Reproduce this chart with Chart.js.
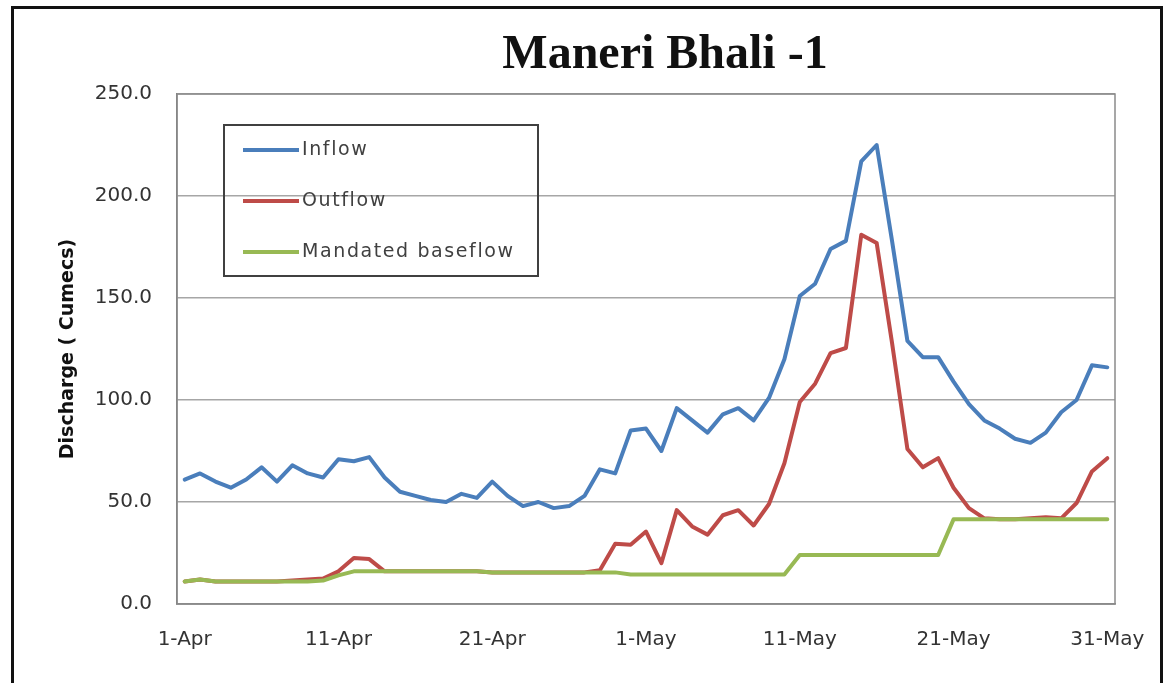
<!DOCTYPE html>
<html lang="en">
<head>
  <meta charset="UTF-8">
  <title>Maneri Bhali -1</title>
  <script src="https://cdn.jsdelivr.net/npm/chart.js"></script>
  <style>
    body { margin: 0; background: #fff; }
    #wrap { position: relative; width: 1164px; height: 683px; overflow: hidden; }
    #frame { position: absolute; left: 11px; top: 6px; width: 1146px; height: 720px; border: 3px solid #111; pointer-events: none; }
    canvas { position: absolute; left: 0; top: 0; }
  </style>
</head>
<body>
  <div id="wrap">
    <canvas id="flowChart" width="1164" height="683"></canvas>
    <div id="frame"></div>
  </div>

  <script>
    const chartTitle = 'Maneri Bhali -1';

    const days = [
      '1-Apr','2-Apr','3-Apr','4-Apr','5-Apr','6-Apr','7-Apr','8-Apr','9-Apr','10-Apr',
      '11-Apr','12-Apr','13-Apr','14-Apr','15-Apr','16-Apr','17-Apr','18-Apr','19-Apr','20-Apr',
      '21-Apr','22-Apr','23-Apr','24-Apr','25-Apr','26-Apr','27-Apr','28-Apr','29-Apr','30-Apr',
      '1-May','2-May','3-May','4-May','5-May','6-May','7-May','8-May','9-May','10-May',
      '11-May','12-May','13-May','14-May','15-May','16-May','17-May','18-May','19-May','20-May',
      '21-May','22-May','23-May','24-May','25-May','26-May','27-May','28-May','29-May','30-May','31-May'
    ];

    const inflow = [
      61, 64, 60, 57, 61, 67, 60, 68, 64, 62,
      71, 70, 72, 62, 55, 53, 51, 50, 54, 52,
      60, 53, 48, 50, 47, 48, 53, 66, 64, 85,
      86, 75, 96, 90, 84, 93, 96, 90, 101, 120,
      151, 157, 174, 178, 217, 225, 178, 129, 121, 121,
      109, 98, 90, 86, 81, 79, 84, 94, 100, 117, 116
    ];

    const outflow = [
      11, 12, 11, 11, 11, 11, 11, 11.5, 12, 12.5,
      16, 22.5, 22, 16, 16, 16, 16, 16, 16, 16,
      15.5, 15.5, 15.5, 15.5, 15.5, 15.5, 15.5, 16.5, 29.5, 29,
      35.5, 20, 46, 38, 34, 43.5, 46, 38.5, 49, 69,
      99, 108, 123, 125.5, 181, 177, 128, 76, 67, 71.5,
      57, 47, 42, 41.5, 41.5, 42, 42.5, 42, 49.5, 65, 71.5
    ];

    const baseflow = [
      11, 12, 11, 11, 11, 11, 11, 11, 11, 11.5,
      14, 16, 16, 16, 16, 16, 16, 16, 16, 16,
      15.5, 15.5, 15.5, 15.5, 15.5, 15.5, 15.5, 15.5, 15.5, 14.5,
      14.5, 14.5, 14.5, 14.5, 14.5, 14.5, 14.5, 14.5, 14.5, 14.5,
      24, 24, 24, 24, 24, 24, 24, 24, 24, 24,
      41.5, 41.5, 41.5, 41.5, 41.5, 41.5, 41.5, 41.5, 41.5, 41.5, 41.5
    ];

    const yTicks = [0, 50, 100, 150, 200, 250];

    const labelFont = "'DejaVu Sans', sans-serif";

    // grey box round the plot area, like Excel draws it
    const plotFrame = {
      id: 'plotFrame',
      beforeDatasetsDraw(chart) {
        const { ctx, chartArea: a } = chart;
        ctx.save();
        ctx.strokeStyle = '#8a8a8a';
        ctx.lineWidth = 1.5;
        ctx.strokeRect(a.left, a.top, a.right - a.left, a.bottom - a.top);
        ctx.restore();
      }
    };

    // title sits over the middle of the plot rather than the canvas
    const titlePlugin = {
      id: 'titlePlugin',
      afterDraw(chart) {
        const ctx = chart.ctx;
        ctx.save();
        ctx.font = "bold 48px 'Liberation Serif', serif";
        ctx.fillStyle = '#111';
        ctx.textAlign = 'center';
        ctx.textBaseline = 'alphabetic';
        ctx.fillText(chartTitle, 665, 68);
        ctx.restore();
      }
    };

    // legend box inside the plot, top left, no fill
    const boxLegend = {
      id: 'boxLegend',
      afterDraw(chart) {
        const ctx = chart.ctx;
        ctx.save();
        ctx.strokeStyle = '#404040';
        ctx.lineWidth = 2;
        ctx.strokeRect(224, 125, 314, 151);
        ctx.font = "19px " + labelFont;
        ctx.letterSpacing = '1.6px';
        ctx.textBaseline = 'middle';
        chart.data.datasets.forEach((ds, i) => {
          const y = 150 + i * 51;
          ctx.strokeStyle = ds.borderColor;
          ctx.lineWidth = 4;
          ctx.beginPath();
          ctx.moveTo(243, y);
          ctx.lineTo(299, y);
          ctx.stroke();
          ctx.fillStyle = '#404040';
          ctx.fillText(ds.label, 302, y);
        });
        ctx.restore();
      }
    };

    new Chart(document.getElementById('flowChart'), {
      type: 'line',
      data: {
        labels: days,
        datasets: [
          { label: 'Inflow', data: inflow, borderColor: '#4a7ebb', order: 2 },
          { label: 'Outflow', data: outflow, borderColor: '#be4b48', order: 1 },
          { label: 'Mandated baseflow', data: baseflow, borderColor: '#98b954', order: 0 }
        ]
      },
      options: {
        responsive: false,
        animation: false,
        devicePixelRatio: 1,
        layout: { padding: { left: 0, right: 49, top: 94, bottom: 0 } },
        elements: {
          line: { borderWidth: 4, tension: 0, borderJoinStyle: 'round', borderCapStyle: 'round' },
          point: { radius: 0 }
        },
        plugins: {
          legend: { display: false },
          tooltip: { enabled: false },
          title: { display: false }
        },
        scales: {
          x: {
            offset: true,
            grid: { display: false },
            border: { display: true, color: '#8a8a8a', width: 1.5 },
            ticks: {
              autoSkip: false,
              maxRotation: 0,
              padding: 16,
              color: '#333',
              font: { family: labelFont, size: 20 },
              callback: (v, i) => (i % 10 === 0 ? days[i] : null)
            },
            afterFit: s => { s.height = 79; }
          },
          y: {
            min: 0,
            max: 250,
            afterBuildTicks: s => { s.ticks = yTicks.map(v => ({ value: v })); },
            grid: { color: '#a6a6a6', lineWidth: 1.5, drawTicks: false },
            border: { display: true, color: '#7a7a7a', width: 1.5 },
            ticks: {
              padding: 25,
              color: '#333',
              font: { family: labelFont, size: 20 },
              callback: v => v.toFixed(1)
            },
            title: {
              display: true,
              text: 'Discharge ( Cumecs)',
              color: '#111',
              font: { family: labelFont, size: 19, weight: 'bold', lineHeight: 1.2 },
              padding: { top: 57, bottom: 0 }
            },
            afterFit: s => { s.width = 177; }
          }
        }
      },
      plugins: [plotFrame, titlePlugin, boxLegend]
    });
  </script>
</body>
</html>
